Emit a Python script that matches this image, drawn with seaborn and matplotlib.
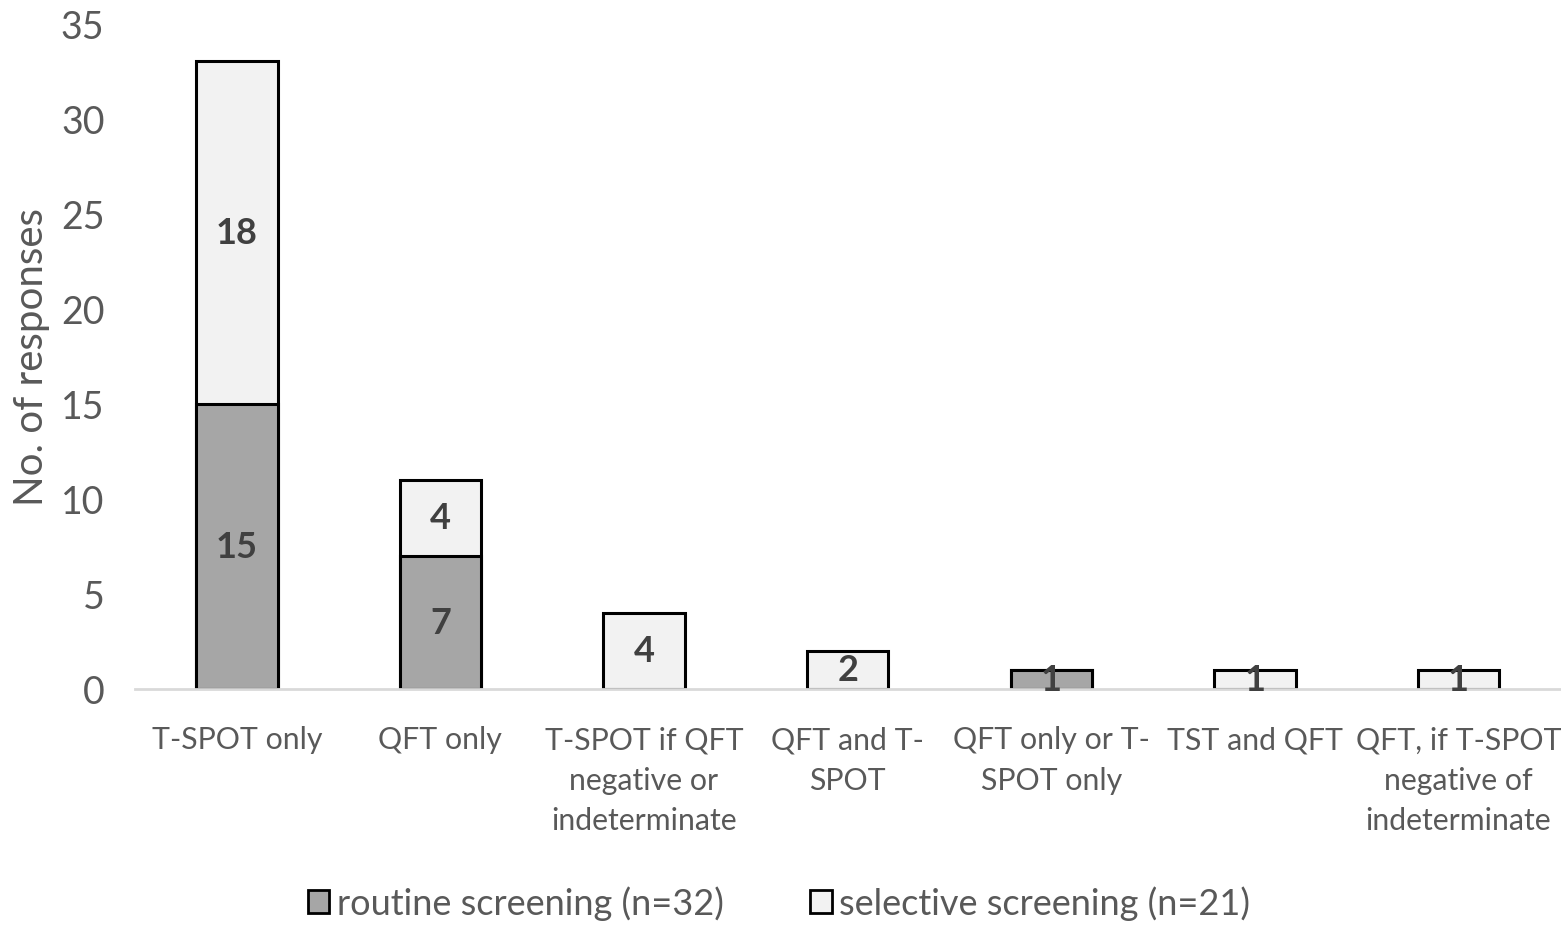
import numpy as np
import pandas as pd
import matplotlib
matplotlib.use("Agg")
import matplotlib.pyplot as plt
import seaborn as sns
from matplotlib.patches import Patch

categories = [
    "T-SPOT only",
    "QFT only",
    "T-SPOT if QFT\nnegative or\nindeterminate",
    "QFT and T-\nSPOT",
    "QFT only or T-\nSPOT only",
    "TST and QFT",
    "QFT, if T-SPOT\nnegative of\nindeterminate",
]
routine = [15, 7, 0, 0, 1, 0, 0]
selective = [18, 4, 4, 2, 0, 1, 1]
series_names = ["routine screening (n=32)", "selective screening (n=21)"]

routine_color = "#a6a6a6"
selective_color = "#f2f2f2"
text_gray = "#595959"

sns.set_theme(style="white")
plt.rcParams["font.family"] = ["Lato", "DejaVu Sans"]

df = pd.DataFrame({
    "category": categories,
    "routine": routine,
    "selective": selective,
})
df["total"] = df["routine"] + df["selective"]

fig = plt.figure(figsize=(15.61, 9.28), dpi=100)
ax = fig.add_axes([0.0865, 0.2565, 0.913, 0.7175])

# total height drawn in the light colour, routine part drawn over it
sns.barplot(data=df, x="category", y="total", color=selective_color,
            saturation=1, width=0.4, edgecolor="black", linewidth=2.2, ax=ax)
sns.barplot(data=df, x="category", y="routine", color=routine_color,
            saturation=1, width=0.4, edgecolor="black", linewidth=2.2, ax=ax)

for p in ax.patches:
    if p.get_height() == 0:
        p.set_linewidth(0)

for i, (r, s) in enumerate(zip(routine, selective)):
    if r > 0:
        ax.text(i, r / 2, str(r), ha="center", va="center", fontsize=26,
                fontweight="bold", color="#404040")
    if s > 0:
        ax.text(i, r + s / 2, str(s), ha="center", va="center", fontsize=26,
                fontweight="bold", color="#404040")

ax.set_ylim(0, 35)
ax.set_yticks(np.arange(0, 36, 5))
ax.set_xlim(-0.5, len(categories) - 0.5)
ax.tick_params(axis="y", labelsize=27, labelcolor=text_gray, length=0, pad=22)
ax.tick_params(axis="x", labelsize=21.8, labelcolor=text_gray, length=0, pad=26)
for lbl in ax.get_xticklabels():
    lbl.set_linespacing(1.55)
ax.set_xlabel("")
ax.set_ylabel("No. of responses", fontsize=29, color=text_gray, labelpad=8)

for side in ["top", "right", "left"]:
    ax.spines[side].set_visible(False)
ax.spines["bottom"].set_color("#d9d9d9")
ax.spines["bottom"].set_linewidth(2)

handles = [
    Patch(facecolor=routine_color, edgecolor="black", linewidth=2, label=series_names[0]),
    Patch(facecolor=selective_color, edgecolor="black", linewidth=2, label=series_names[1]),
]
leg = fig.legend(handles=handles, loc="center", bbox_to_anchor=(0.499, 0.026),
                 ncol=2, frameon=False, fontsize=26, handlelength=0.6,
                 handleheight=0.6, handletextpad=0.2, columnspacing=2.4)
for t in leg.get_texts():
    t.set_color(text_gray)

fig.savefig("out.png", dpi=100)
